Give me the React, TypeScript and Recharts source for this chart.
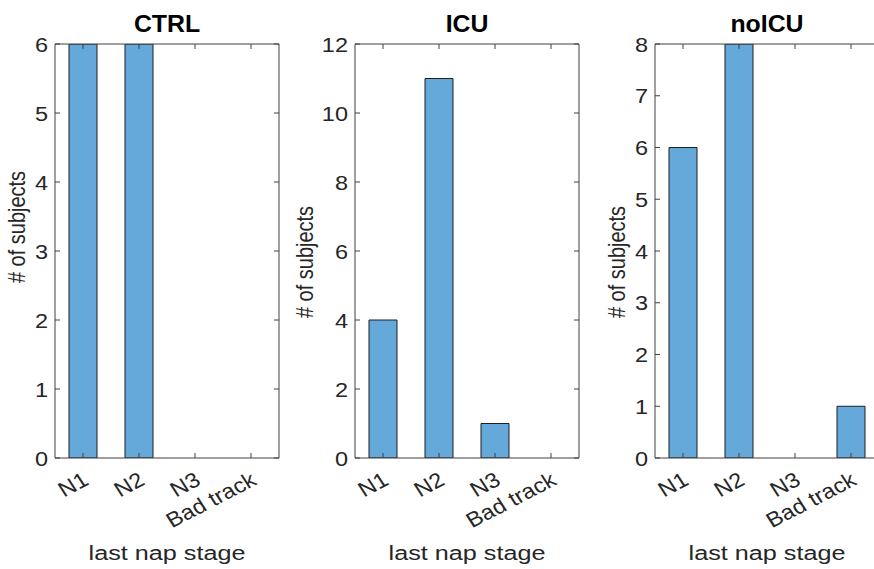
import React from 'react';
import { BarChart, Bar, XAxis, YAxis } from 'recharts';

const stages = ['N1', 'N2', 'N3', 'Bad track'];
const panelTitles = ['CTRL', 'ICU', 'noICU'];
const ctrlCounts = [6, 6, 0, 0];
const icuCounts = [4, 11, 1, 0];
const noicuCounts = [6, 8, 0, 1];
const ctrlTicks = [0, 1, 2, 3, 4, 5, 6];
const icuTicks = [0, 2, 4, 6, 8, 10, 12];
const noicuTicks = [0, 1, 2, 3, 4, 5, 6, 7, 8];
const xAxisLabel = 'last nap stage';
const yAxisLabel = '# of subjects';

const FONT = '"Liberation Sans", Arial, Helvetica, sans-serif';
const AXIS = '#404040';
const TXT = '#262626';
const BAR_FILL = '#64A9D9';
const BAR_EDGE = '#1f1f1f';

const W = 874;
const H = 569;
const PANEL_W = 300;
const PLOT_LEFT = 55;
const PLOT_W = 224;
const PLOT_TOP = 44;
const PLOT_BOTTOM = 458;
const SX = 1.12;
const TICK_LEN = 5;
const Y_TICK_GAP = 7;
const X_TICK_GAP = 26;

const YTick = (props: any) => {
  const { x, y, payload } = props;
  const ax = x + Y_TICK_GAP;
  return (
    <g>
      <line x1={ax} x2={ax + TICK_LEN} y1={y} y2={y} stroke={AXIS} strokeWidth={1} />
      <text
        transform={`translate(${x},${y}) scale(${SX},1)`}
        textAnchor="end"
        dy="0.36em"
        fontSize={21}
        fill={TXT}
        fontFamily={FONT}
      >
        {payload.value}
      </text>
    </g>
  );
};

const XTick = (props: any) => {
  const { x, y, payload } = props;
  const ay = y - X_TICK_GAP;
  return (
    <g>
      <line x1={x} x2={x} y1={ay} y2={ay - TICK_LEN} stroke={AXIS} strokeWidth={1} />
      <text
        transform={`translate(${x + 7},${y}) scale(${SX},1) rotate(-30)`}
        textAnchor="end"
        fontSize={21}
        fill={TXT}
        fontFamily={FONT}
      >
        {payload.value}
      </text>
    </g>
  );
};

const TopTick = (props: any) => {
  const { x, y } = props;
  return <line x1={x} x2={x} y1={y} y2={y + TICK_LEN} stroke={AXIS} strokeWidth={1} />;
};

const RightTick = (props: any) => {
  const { x, y } = props;
  return <line x1={x} x2={x - TICK_LEN} y1={y} y2={y} stroke={AXIS} strokeWidth={1} />;
};

type PanelProps = {
  counts: number[];
  ticks: number[];
};

const Panel = ({ counts, ticks }: PanelProps) => {
  const data = stages.map((s, i) => ({ stage: s, count: counts[i] }));
  const maxV = ticks[ticks.length - 1];
  return (
    <BarChart
      width={PANEL_W}
      height={H}
      data={data}
      margin={{ top: PLOT_TOP - 1, right: PANEL_W - PLOT_LEFT - PLOT_W - 1, bottom: 0, left: 0 }}
      barCategoryGap="25%"
    >
      <XAxis
        dataKey="stage"
        height={H - PLOT_BOTTOM}
        interval={0}
        tickSize={0}
        tickMargin={X_TICK_GAP}
        tick={<XTick />}
        tickLine={false}
        axisLine={{ stroke: AXIS, strokeWidth: 1 }}
      />
      <XAxis
        xAxisId="top"
        orientation="top"
        dataKey="stage"
        height={1}
        interval={0}
        tickSize={0}
        tickMargin={0}
        tick={<TopTick />}
        tickLine={false}
        axisLine={{ stroke: AXIS, strokeWidth: 1 }}
      />
      <YAxis
        width={PLOT_LEFT}
        type="number"
        domain={[0, maxV]}
        ticks={ticks}
        interval={0}
        allowDataOverflow
        tickSize={0}
        tickMargin={Y_TICK_GAP}
        tick={<YTick />}
        tickLine={false}
        axisLine={{ stroke: AXIS, strokeWidth: 1 }}
      />
      <YAxis
        yAxisId="right"
        orientation="right"
        width={1}
        type="number"
        domain={[0, maxV]}
        ticks={ticks}
        interval={0}
        allowDataOverflow
        tickSize={0}
        tickMargin={0}
        tick={<RightTick />}
        tickLine={false}
        axisLine={{ stroke: AXIS, strokeWidth: 1 }}
      />
      <Bar
        dataKey="count"
        fill={BAR_FILL}
        stroke={BAR_EDGE}
        strokeWidth={1}
        isAnimationActive={false}
      />
    </BarChart>
  );
};

const panelCounts = [ctrlCounts, icuCounts, noicuCounts];
const panelTicks = [ctrlTicks, icuTicks, noicuTicks];
const yLabelX = [25, 313, 625];
const yLabelY = [227, 262, 262];

export default function App() {
  return (
    <div
      style={{
        position: 'absolute',
        left: 0,
        top: 0,
        width: W,
        height: H,
        overflow: 'hidden',
        background: '#ffffff',
      }}
    >
      {panelTitles.map((t, i) => (
        <div key={t} style={{ position: 'absolute', left: i * PANEL_W, top: 0 }}>
          <Panel counts={panelCounts[i]} ticks={panelTicks[i]} />
        </div>
      ))}
      <svg
        width={W}
        height={H}
        style={{ position: 'absolute', left: 0, top: 0, pointerEvents: 'none' }}
      >
        {panelTitles.map((t, i) => {
          const cx = i * PANEL_W + PLOT_LEFT + PLOT_W / 2;
          return (
            <g key={t}>
              <text
                transform={`translate(${cx},31.5) scale(1.08,1)`}
                textAnchor="middle"
                fontSize={23}
                fontWeight="bold"
                fill="#000"
                fontFamily={FONT}
              >
                {t}
              </text>
              <text
                transform={`translate(${cx},560) scale(1.2,1)`}
                textAnchor="middle"
                fontSize={21}
                fill={TXT}
                fontFamily={FONT}
              >
                {xAxisLabel}
              </text>
              <text
                transform={`translate(${yLabelX[i]},${yLabelY[i]}) scale(1.2,1) rotate(-90)`}
                textAnchor="middle"
                fontSize={20}
                fill={TXT}
                fontFamily={FONT}
              >
                {yAxisLabel}
              </text>
            </g>
          );
        })}
      </svg>
    </div>
  );
}
